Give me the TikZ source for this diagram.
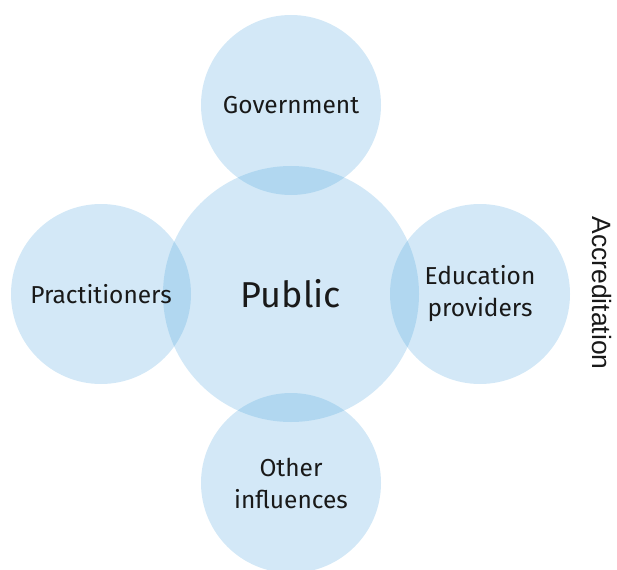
\documentclass[tikz,border=0pt]{standalone}
\usepackage{fontspec}
\setmainfont{Fira Sans}
\newfontfamily\sidefont{Liberation Sans}
\definecolor{ringblue}{RGB}{70,160,220}
\begin{document}
\begin{tikzpicture}[x=1pt,y=-1pt,
  bubble/.style={circle,fill=ringblue,fill opacity=0.24,text opacity=1,inner sep=0pt,align=center},
  small/.style={bubble,minimum size=180pt,font=\fontsize{24.5}{32}\selectfont,text=black!90},
  big/.style={bubble,minimum size=256pt,font=\fontsize{36}{40}\selectfont,text=black!90}]
\useasboundingbox (0,0) rectangle (617,569);
\node[big]   (public) at (291,294) {Public};
\node[small] (gov)    at (291,105) {Government};
\node[small] (prac)   at (101,294) {Practitioners};
\node[small] (edu)    at (480,294) {Education\\providers};
\node[small] (other)  at (291,483) {Other\\influences};
\node[rotate=-90,font=\sidefont\fontsize{26.5}{30}\selectfont,text=black!90] (accr) at (602,293) {Accreditation};
\end{tikzpicture}
\end{document}
